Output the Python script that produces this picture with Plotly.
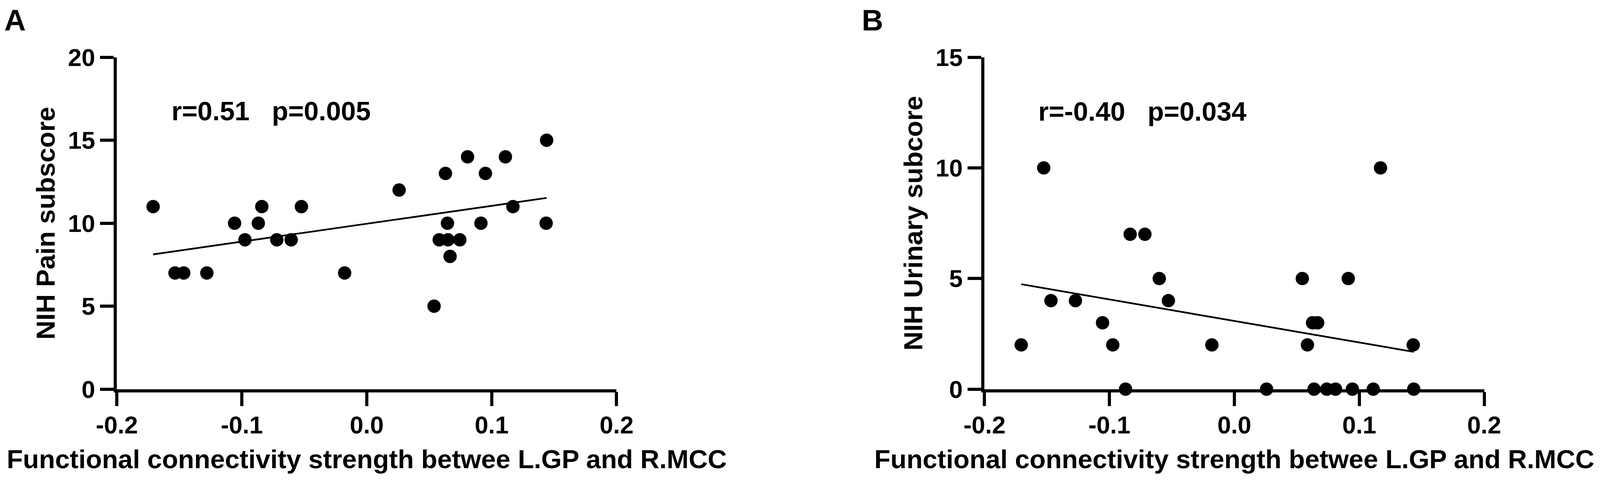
import numpy as np
import plotly.graph_objects as go

# Panel A: NIH Pain subscore vs FC strength
fc_a = [-0.171, -0.1535, -0.1465, -0.128, -0.1058, -0.0975, -0.0868, -0.084, -0.072,
        -0.0605, -0.0523, -0.0177, 0.0259, 0.0539, 0.058, 0.063, 0.0646, 0.065,
        0.0667, 0.0745, 0.0807, 0.0914, 0.095, 0.111, 0.117, 0.1436, 0.144]
pain = [11, 7, 7, 7, 10, 9, 10, 11, 9, 9, 11, 7, 12, 5, 9, 13, 10, 9, 8, 9, 14, 10, 13, 14, 11, 10, 15]

# Panel B: NIH Urinary subscore vs FC strength
fc_b = [-0.1706, -0.1526, -0.1468, -0.1272, -0.1055, -0.0973, -0.0871, -0.0834, -0.0716,
        -0.0601, -0.0528, -0.018, 0.0258, 0.0544, 0.0585, 0.0626, 0.0638, 0.0667,
        0.074, 0.081, 0.0912, 0.0945, 0.1112, 0.117, 0.1432, 0.1436]
urinary = [2, 10, 4, 4, 3, 2, 0, 7, 7, 5, 4, 2, 0, 5, 2, 3, 0, 3, 0, 0, 5, 0, 0, 10, 2, 0]

x_ticks = [-0.2, -0.1, 0.0, 0.1, 0.2]
x_ticklabels = ["-0.2", "-0.1", "0.0", "0.1", "0.2"]
stats_a = "r=0.51\u00a0\u00a0\u00a0p=0.005"
stats_b = "r=-0.40\u00a0\u00a0\u00a0p=0.034"
x_title = "Functional connectivity strength betwee L.GP and R.MCC"

W, H = 4192, 1260
S = 0.978   # visible page area is a bit smaller than the window
OFF = 8     # default body margin of the html page


def fx(px):
    return (px * S - OFF) / W


def fy(px):
    return 1 - (px * S - OFF) / H


font_fam = "Liberation Sans, Arial"

fig = go.Figure()

# scatter + linear fit for each panel
for xs, ys, xa, ya in [(fc_a, pain, "x", "y"), (fc_b, urinary, "x2", "y2")]:
    fig.add_trace(go.Scatter(x=xs, y=ys, mode="markers", xaxis=xa, yaxis=ya,
                             marker=dict(size=35 * S, color="black"), cliponaxis=False,
                             showlegend=False))
    slope, inter = np.polyfit(xs, ys, 1)
    fit_x = [min(xs), max(xs)]
    fit_y = [slope * v + inter for v in fit_x]
    fig.add_trace(go.Scatter(x=fit_x, y=fit_y, mode="lines", xaxis=xa, yaxis=ya,
                             line=dict(color="black", width=4.5 * S), cliponaxis=False,
                             showlegend=False))

axis_common = dict(showline=True, linecolor="black", linewidth=8 * S, ticks="outside",
                   ticklen=36 * S, tickwidth=8 * S, tickcolor="black", showgrid=False,
                   zeroline=False, layer="below traces", automargin=False,
                   tickfont=dict(family=font_fam, size=64 * S, color="black", weight="bold"))

xa_common = dict(axis_common, range=[-0.2, 0.2], tickvals=x_ticks, ticktext=x_ticklabels,
                 ticklabelstandoff=-5,
                 title=dict(text=x_title, standoff=33,
                            font=dict(family=font_fam, size=69 * S, color="black", weight="bold")))

ya_title_font = dict(family=font_fam, size=69 * S, color="black", weight="bold")

fig.update_layout(
    template="none",
    width=W, height=H,
    margin=dict(l=0, r=0, t=0, b=0),
    plot_bgcolor="white", paper_bgcolor="white",
    xaxis=dict(xa_common, domain=[fx(306), fx(1614)], anchor="y"),
    yaxis=dict(axis_common, domain=[fy(1019), fy(150)], anchor="x", range=[0, 20],
               tickvals=[0, 5, 10, 15, 20],
               title=dict(text="NIH Pain subscore", standoff=14, font=ya_title_font)),
    xaxis2=dict(xa_common, domain=[fx(2577), fx(3885)], anchor="y2"),
    yaxis2=dict(axis_common, domain=[fy(1019), fy(150)], anchor="x2", range=[0, 15],
                tickvals=[0, 5, 10, 15],
                title=dict(text="NIH Urinary subcore", standoff=14, font=ya_title_font)),
)

fig.add_annotation(text=stats_a, x=-0.0765, y=16.75, xref="x", yref="y", showarrow=False,
                   font=dict(family=font_fam, size=70 * S, color="black", weight="bold"))
fig.add_annotation(text=stats_b, x=-0.0737, y=12.55, xref="x2", yref="y2", showarrow=False,
                   font=dict(family=font_fam, size=70 * S, color="black", weight="bold"))

# panel letters
for letter, left in [("A", 10), ("B", 2255)]:
    fig.add_annotation(text=letter, x=fx(left), y=1, xref="paper", yref="paper",
                       xanchor="left", yanchor="top", showarrow=False, borderpad=0,
                       font=dict(family=font_fam, size=78 * S, color="black", weight="bold"))

fig.write_html("out.html")
